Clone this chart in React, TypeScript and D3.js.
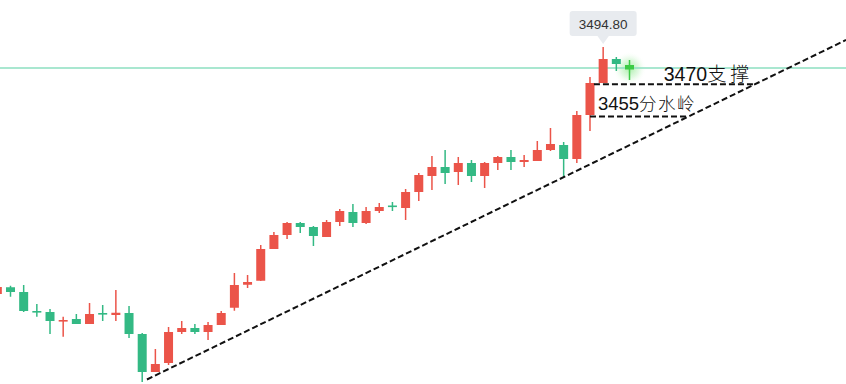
import React from "react";
import * as d3 from "d3";

// ---- data ----
const opens = [3396.0, 3398.7, 3396.8, 3389.2, 3388.8, 3385.2, 3386.0, 3384.0, 3388.4, 3387.6, 3388.4, 3380.0, 3364.8, 3368.4, 3380.8, 3382.4, 3380.8, 3383.6, 3390.5, 3399.7, 3401.3, 3414.0, 3419.6, 3424.4, 3422.8, 3418.8, 3424.8, 3428.8, 3424.4, 3429.2, 3431.4, 3430.4, 3436.8, 3443.2, 3446.8, 3444.8, 3448.4, 3443.2, 3448.4, 3450.8, 3448.8, 3449.2, 3453.6, 3455.6, 3450.0, 3467.6, 3480.4, 3490.0, 3487.6];
const closes = [3398.8, 3396.8, 3389.2, 3388.8, 3385.2, 3385.6, 3384.0, 3388.0, 3388.0, 3388.5, 3380.0, 3364.8, 3368.0, 3380.8, 3382.4, 3380.8, 3383.6, 3388.4, 3399.6, 3400.8, 3414.0, 3419.6, 3424.4, 3422.8, 3419.2, 3424.8, 3429.2, 3424.4, 3429.2, 3430.8, 3431.0, 3436.8, 3443.6, 3446.8, 3444.4, 3448.4, 3443.2, 3448.4, 3450.8, 3448.8, 3449.6, 3453.6, 3456.0, 3450.0, 3467.6, 3480.4, 3490.0, 3488.0, 3485.8];
const highs = [3399.6, 3399.3, 3399.6, 3392.0, 3390.0, 3386.9, 3388.0, 3392.4, 3391.6, 3397.6, 3391.2, 3380.4, 3374.0, 3382.8, 3385.2, 3384.0, 3384.8, 3389.2, 3404.4, 3403.6, 3415.6, 3420.8, 3424.8, 3424.8, 3423.2, 3425.6, 3430.0, 3432.0, 3430.8, 3432.4, 3432.8, 3438.0, 3444.4, 3451.2, 3453.6, 3450.8, 3449.6, 3448.8, 3451.2, 3453.6, 3451.6, 3457.2, 3462.4, 3456.8, 3469.2, 3482.8, 3494.8, 3490.8, 3489.6];
const lows = [3395.2, 3394.9, 3388.8, 3386.9, 3380.0, 3378.9, 3384.0, 3384.0, 3385.2, 3385.2, 3378.4, 3360.8, 3364.8, 3367.6, 3380.0, 3380.0, 3377.6, 3383.6, 3389.3, 3398.4, 3401.2, 3414.0, 3418.0, 3420.4, 3415.2, 3418.8, 3423.2, 3422.8, 3424.0, 3428.4, 3429.2, 3425.6, 3433.2, 3437.6, 3440.0, 3439.6, 3440.8, 3438.4, 3445.6, 3445.6, 3446.8, 3449.2, 3453.2, 3442.8, 3448.4, 3461.2, 3480.4, 3485.2, 3481.6];

const currentPrice = 3486.4;
const tooltipLabel = "3494.80";
const tooltipIndex = 46;

// trend line (index, price)
const trendIdx = [11.36, 64.44];
const trendPrice = [3361.8, 3497.6];

// annotation levels
const levelPrices = [3479.9, 3467.0];
const levelStartIdx = [45.3, 45.0];
const levelLabelNum = ["3470", "3455"];
const levelLabelCn = ["支撑", "分水岭"];
const levelLabelIdx = [50.6, 45.6];

const W = 846;
const H = 384;
const RED = "#eb5449";
const GREEN = "#33b984";

export default function App() {
  const n = opens.length;
  const x = d3.scaleLinear().domain([0, n - 1]).range([-2.67, 629.5]);
  const y = d3.scaleLinear().domain([3360.0, 3513.6]).range([H, 0]);
  const bodyW = 9;

  const trendAt = (i: number) => {
    const t = (i - trendIdx[0]) / (trendIdx[1] - trendIdx[0]);
    return trendPrice[0] + t * (trendPrice[1] - trendPrice[0]);
  };
  const idxAtPrice = (p: number) =>
    trendIdx[0] + ((p - trendPrice[0]) / (trendPrice[1] - trendPrice[0])) * (trendIdx[1] - trendIdx[0]);

  const trendLine = d3.line<number>()
    .x((i) => x(i))
    .y((i) => y(trendAt(i)));

  const tx = x(tooltipIndex);
  const tTip = y(highs[tooltipIndex]) - 3;

  return (
    <svg
      width={W}
      height={H}
      style={{ position: "absolute", left: 0, top: 0, background: "#fff" }}
    >
      <defs>
        <radialGradient id="glow">
          <stop offset="0%" stopColor="#5ee05e" stopOpacity={0.55} />
          <stop offset="55%" stopColor="#8ee88e" stopOpacity={0.25} />
          <stop offset="100%" stopColor="#ffffff" stopOpacity={0} />
        </radialGradient>
      </defs>
      <rect width={W} height={H} fill="#fff" />
      {/* glow on last candle */}
      <circle cx={x(n - 1)} cy={y(closes[n - 1]) - 1} r={17} fill="url(#glow)" />
      {/* current price line */}
      <line x1={0} x2={W} y1={y(currentPrice)} y2={y(currentPrice)} stroke="#8ddfc0" strokeWidth={1.3} />
      {/* candles */}
      {opens.map((o, i) => {
        const c = closes[i];
        const up = c >= o;
        const isLast = i === n - 1;
        const col = isLast ? "#3ccb45" : up ? RED : GREEN;
        const cx = x(i);
        const y1 = y(Math.max(o, c));
        const y2 = y(Math.min(o, c));
        return (
          <g key={i}>
            <line x1={cx} x2={cx} y1={y(highs[i])} y2={y(lows[i])} stroke={col} strokeWidth={1.5} />
            <rect x={cx - bodyW / 2} y={y1} width={bodyW} height={Math.max(1.6, y2 - y1)} fill={col} />
          </g>
        );
      })}
      {/* trend line */}
      <path
        d={trendLine([trendIdx[0], trendIdx[1]]) || ""}
        fill="none"
        stroke="#111"
        strokeWidth={2}
        strokeDasharray="6,3"
      />
      {/* levels */}
      {levelPrices.map((p, k) => (
        <g key={k}>
          <line
            x1={x(levelStartIdx[k])}
            x2={x(idxAtPrice(p))}
            y1={y(p)}
            y2={y(p)}
            stroke="#111"
            strokeWidth={2}
            strokeDasharray="6,3"
          />
          <text
            x={x(levelLabelIdx[k])}
            y={y(p) - (k === 0 ? 3.5 : 6.5)}
            fill="#111"
            fontSize={k === 0 ? 19.5 : 18.5}
          >
            <tspan fontFamily="Liberation Sans, Arial, sans-serif">{levelLabelNum[k]}</tspan>
            <tspan
              fontFamily="Noto Sans CJK SC, sans-serif"
              fontSize={k === 0 ? 19 : 17.5}
              letterSpacing={k === 0 ? 4 : 1.5}
              fontWeight={300}
            >
              {levelLabelCn[k]}
            </tspan>
          </text>
        </g>
      ))}
      {/* tooltip */}
      <g>
        <rect x={tx - 33.5} y={tTip - 33} width={67} height={25} rx={3} fill="#e8ebef" />
        <path d={`M${tx - 6},${tTip - 8.5} L${tx + 6},${tTip - 8.5} L${tx},${tTip} Z`} fill="#e8ebef" />
        <text
          x={tx}
          y={tTip - 15.5}
          textAnchor="middle"
          fontFamily="Liberation Sans, Arial, sans-serif"
          fontSize={13.5}
          fill="#333"
        >
          {tooltipLabel}
        </text>
      </g>
    </svg>
  );
}
